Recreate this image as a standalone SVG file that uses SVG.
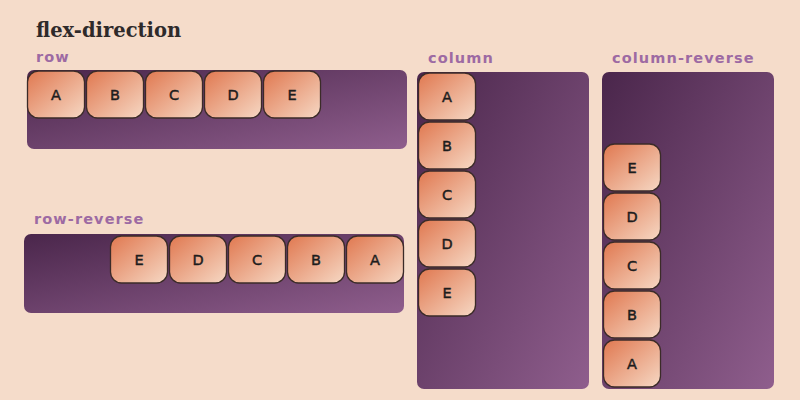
<svg xmlns="http://www.w3.org/2000/svg" width="800" height="400" viewBox="0 0 800 400">
<defs>
<linearGradient id="cg" x1="0" y1="0" x2="1" y2="1">
<stop offset="0" stop-color="#4a264b"/>
<stop offset="1" stop-color="#8f5e8d"/>
</linearGradient>
<linearGradient id="bg" x1="0" y1="0" x2="1" y2="1">
<stop offset="0" stop-color="#e07850"/>
<stop offset="1" stop-color="#f6d8c4"/>
</linearGradient>
<style>
.cont{fill:url(#cg);}
.box rect{fill:url(#bg);stroke:#3b2b28;stroke-width:1.3;}
.box text{font-family:"Comic Sans MS","DejaVu Sans",sans-serif;font-size:14.5px;fill:#1d1d1d;stroke:#1d1d1d;stroke-width:0.45;text-anchor:middle;}
.lbl{font-family:"DejaVu Sans",sans-serif;font-weight:bold;font-size:14.5px;fill:#9d6aa3;letter-spacing:1.1px;}
.title{font-family:"DejaVu Serif","Liberation Serif",serif;font-weight:bold;font-size:19.5px;fill:#2e2a2a;}
</style>
</defs>
<rect width="800" height="400" fill="#f5dcca"/>
<text class="title" x="36" y="37">flex-direction</text>

<g id="row">
<text class="lbl" x="36" y="62">row</text>
<rect class="cont" x="27" y="70" width="380" height="79" rx="7"/>
<g class="box" id="row-A"><rect x="27.5" y="71" width="57" height="47" rx="11"/><text x="56" y="100">A</text></g>
<g class="box" id="row-B"><rect x="86.5" y="71" width="57" height="47" rx="11"/><text x="115" y="100">B</text></g>
<g class="box" id="row-C"><rect x="145.5" y="71" width="57" height="47" rx="11"/><text x="174" y="100">C</text></g>
<g class="box" id="row-D"><rect x="204.5" y="71" width="57" height="47" rx="11"/><text x="233" y="100">D</text></g>
<g class="box" id="row-E"><rect x="263.5" y="71" width="57" height="47" rx="11"/><text x="292" y="100">E</text></g>
</g>

<g id="row-reverse">
<text class="lbl" x="34" y="224">row-reverse</text>
<rect class="cont" x="24" y="234" width="380" height="79" rx="7"/>
<g class="box" id="rr-E"><rect x="110.5" y="236" width="57" height="47" rx="11"/><text x="139" y="265">E</text></g>
<g class="box" id="rr-D"><rect x="169.5" y="236" width="57" height="47" rx="11"/><text x="198" y="265">D</text></g>
<g class="box" id="rr-C"><rect x="228.5" y="236" width="57" height="47" rx="11"/><text x="257" y="265">C</text></g>
<g class="box" id="rr-B"><rect x="287.5" y="236" width="57" height="47" rx="11"/><text x="316" y="265">B</text></g>
<g class="box" id="rr-A"><rect x="346.5" y="236" width="57" height="47" rx="11"/><text x="375" y="265">A</text></g>
</g>

<g id="column">
<text class="lbl" x="428" y="63">column</text>
<rect class="cont" x="417" y="72" width="172" height="317" rx="7"/>
<g class="box" id="col-A"><rect x="418.5" y="73" width="57" height="47" rx="11"/><text x="447" y="102">A</text></g>
<g class="box" id="col-B"><rect x="418.5" y="122" width="57" height="47" rx="11"/><text x="447" y="151">B</text></g>
<g class="box" id="col-C"><rect x="418.5" y="171" width="57" height="47" rx="11"/><text x="447" y="200">C</text></g>
<g class="box" id="col-D"><rect x="418.5" y="220" width="57" height="47" rx="11"/><text x="447" y="249">D</text></g>
<g class="box" id="col-E"><rect x="418.5" y="269" width="57" height="47" rx="11"/><text x="447" y="298">E</text></g>
</g>

<g id="column-reverse">
<text class="lbl" x="612" y="63">column-reverse</text>
<rect class="cont" x="602" y="72" width="172" height="317" rx="7"/>
<g class="box" id="cr-E"><rect x="603.5" y="144" width="57" height="47" rx="11"/><text x="632" y="173">E</text></g>
<g class="box" id="cr-D"><rect x="603.5" y="193" width="57" height="47" rx="11"/><text x="632" y="222">D</text></g>
<g class="box" id="cr-C"><rect x="603.5" y="242" width="57" height="47" rx="11"/><text x="632" y="271">C</text></g>
<g class="box" id="cr-B"><rect x="603.5" y="291" width="57" height="47" rx="11"/><text x="632" y="320">B</text></g>
<g class="box" id="cr-A"><rect x="603.5" y="340" width="57" height="47" rx="11"/><text x="632" y="369">A</text></g>
</g>
</svg>
